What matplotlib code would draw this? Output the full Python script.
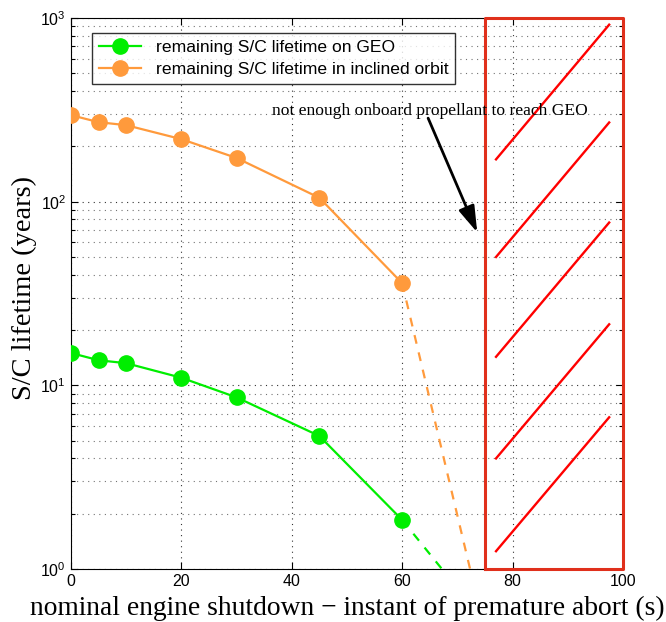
import matplotlib.pyplot as plt
from matplotlib.ticker import LogLocator, NullFormatter

######################################## DATA #########################################

# abort instant (s) vs remaining lifetime (years)
t_abort = [0, 5, 10, 20, 30, 45, 60]
life_geo = [15.0, 13.7, 13.2, 11.0, 8.6, 5.3, 1.85]
life_incl = [296, 271, 261, 219, 173, 105, 36]

# extrapolated tails down to 1 year
t_geo_ext = [60, 67.2]
life_geo_ext = [1.85, 1.0]
t_incl_ext = [60, 72.3]
life_incl_ext = [36, 1.0]

# region where GEO cannot be reached
no_geo_x = [75, 100]
no_geo_y = [1, 1000]

# hatch strokes inside that region
hatch_x = [77, 97.5]
hatch_y = [[1.25, 6.7], [4.0, 21.5], [14.3, 77], [50, 270], [170, 920]]

GREEN = "#00ee00"
ORANGE = "#ff9a3c"
RED_BOX = "#e0301c"


def main() -> None:

    fig = plt.figure(figsize=(6.66, 6.22), dpi=100)
    ax = fig.add_axes([0.1066, 0.0852, 0.8288, 0.8858])

    ######################################## CURVES #########################################

    ax.plot(t_abort, life_geo, "-o", color=GREEN, lw=1.6, ms=11,
            label="remaining S/C lifetime on GEO", zorder=4)
    ax.plot(t_abort, life_incl, "-o", color=ORANGE, lw=1.6, ms=11,
            label="remaining S/C lifetime in inclined orbit", zorder=4)
    ax.plot(t_geo_ext, life_geo_ext, "--", color=GREEN, lw=1.6, dashes=(4, 4), zorder=3)
    ax.plot(t_incl_ext, life_incl_ext, "--", color=ORANGE, lw=1.6, dashes=(4, 4), zorder=3)

    ######################################## NO-GEO REGION #########################################

    ax.plot([no_geo_x[0], no_geo_x[1], no_geo_x[1], no_geo_x[0], no_geo_x[0]],
            [no_geo_y[0], no_geo_y[0], no_geo_y[1], no_geo_y[1], no_geo_y[0]],
            color=RED_BOX, lw=2.2, clip_on=False, zorder=5)
    for hy in hatch_y:
        ax.plot(hatch_x, hy, color="red", lw=1.7, zorder=5)

    ax.text(65, 312, "not enough onboard propellant to reach GEO",
            ha="center", va="center", family="Liberation Serif", fontsize=12.6, zorder=6)
    ax.annotate("", xy=(73.6, 68), xytext=(64.7, 285),
                arrowprops=dict(arrowstyle="-|>,head_length=1.6,head_width=0.5",
                                color="black", lw=2.0, shrinkA=0, shrinkB=0),
                zorder=6)

    ######################################## AXES #########################################

    ax.set_yscale("log")
    ax.set_xlim(0, 100)
    ax.set_ylim(1, 1000)
    ax.set_xticks([0, 20, 40, 60, 80, 100])
    ax.yaxis.set_minor_locator(LogLocator(base=10, subs=range(2, 10)))
    ax.yaxis.set_minor_formatter(NullFormatter())

    ax.grid(True, which="major", ls=(0, (1, 4)), color="0.2", lw=0.8)
    ax.grid(True, which="minor", axis="y", ls=(0, (1, 4)), color="0.45", lw=0.8)
    ax.tick_params(which="both", direction="in", top=True, right=True,
                   labelsize=11.5, width=0.8)
    ax.tick_params(which="major", length=5)
    ax.tick_params(which="minor", length=3)
    for lab in ax.get_xticklabels() + ax.get_yticklabels():
        lab.set_family("Liberation Sans")

    ax.set_xlabel("nominal engine shutdown \u2212 instant of premature abort (s)",
                  family="Liberation Serif", fontsize=19.8, labelpad=5)
    ax.set_ylabel("S/C lifetime (years)", family="Liberation Serif", fontsize=20.5)
    ax.yaxis.set_label_coords(-0.062, 0.51)

    leg = ax.legend(loc="upper left", bbox_to_anchor=(0.038, 0.973),
                    frameon=True, fancybox=False, edgecolor="black",
                    handlelength=2.4, borderpad=0.4, labelspacing=0.4,
                    handletextpad=0.85, borderaxespad=0,
                    prop={"family": "Liberation Sans", "size": 12.6})
    leg.get_frame().set_linewidth(1.0)
    leg.set_zorder(7)

    fig.savefig("out.png", dpi=100)


if __name__ == "__main__":
    main()
